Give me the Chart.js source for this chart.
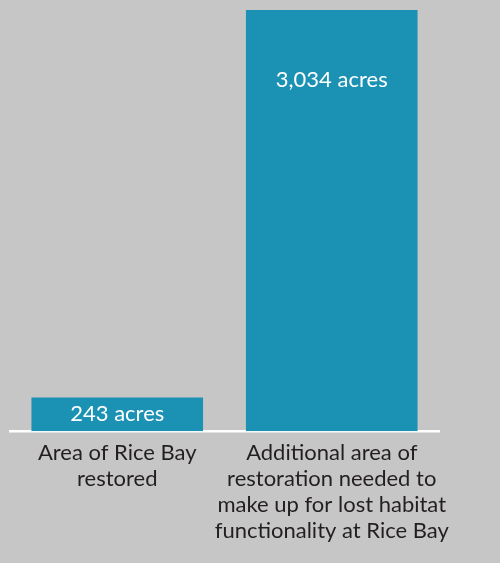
<!DOCTYPE html>
<html>
<head>
<meta charset="utf-8">
<script src="https://cdn.jsdelivr.net/npm/chart.js@4"></script>
<style>
  html, body { margin: 0; padding: 0; background: #c6c6c6; }
  #wrap { width: 500px; height: 563px; }
</style>
</head>
<body>
<div id="wrap"><canvas id="restorationChart" width="500" height="563"></canvas></div>
<script>
const categories = [
  ["Area of Rice Bay", "restored"],
  ["Additional area of", "restoration needed to", "make up for lost habitat", "functionality at Rice Bay"]
];
const acres = [243, 3034];
const valueLabels = ["243 acres", "3,034 acres"];

const barColor = "#1b92b4";

// value text inside each bar
const barLabelPlugin = {
  id: "barLabels",
  afterDatasetsDraw(chart) {
    const { ctx } = chart;
    const meta = chart.getDatasetMeta(0);
    ctx.save();
    ctx.font = "22px Lato";
    ctx.fillStyle = "#ffffff";
    ctx.textAlign = "center";
    ctx.textBaseline = "middle";
    meta.data.forEach((bar, i) => {
      const h = bar.base - bar.y;
      // tall bar: text near the top, short bar: centered
      const y = h > 120 ? bar.y + 70 : bar.y + h / 2;
      ctx.fillText(valueLabels[i], bar.x, y);
    });
    ctx.restore();
  }
};

new Chart(document.getElementById("restorationChart"), {
  type: "bar",
  data: {
    labels: categories,
    datasets: [{
      data: acres,
      backgroundColor: barColor,
      borderWidth: 0,
      barPercentage: 0.8,
      categoryPercentage: 1.0
    }]
  },
  options: {
    responsive: false,
    animation: false,
    layout: { padding: { left: 10, right: 61, top: 10, bottom: 18 } },
    plugins: {
      legend: { display: false },
      tooltip: { enabled: false }
    },
    scales: {
      x: {
        grid: { display: false },
        border: { display: true, color: "#ffffff", width: 2.5 },
        ticks: {
          color: "#231f20",
          font: { family: "Lato", size: 22, lineHeight: 1.18 },
          padding: 1,
          maxRotation: 0,
          autoSkip: false
        }
      },
      y: {
        display: false,
        min: 0,
        max: 3034
      }
    }
  },
  plugins: [barLabelPlugin]
});
</script>
</body>
</html>
